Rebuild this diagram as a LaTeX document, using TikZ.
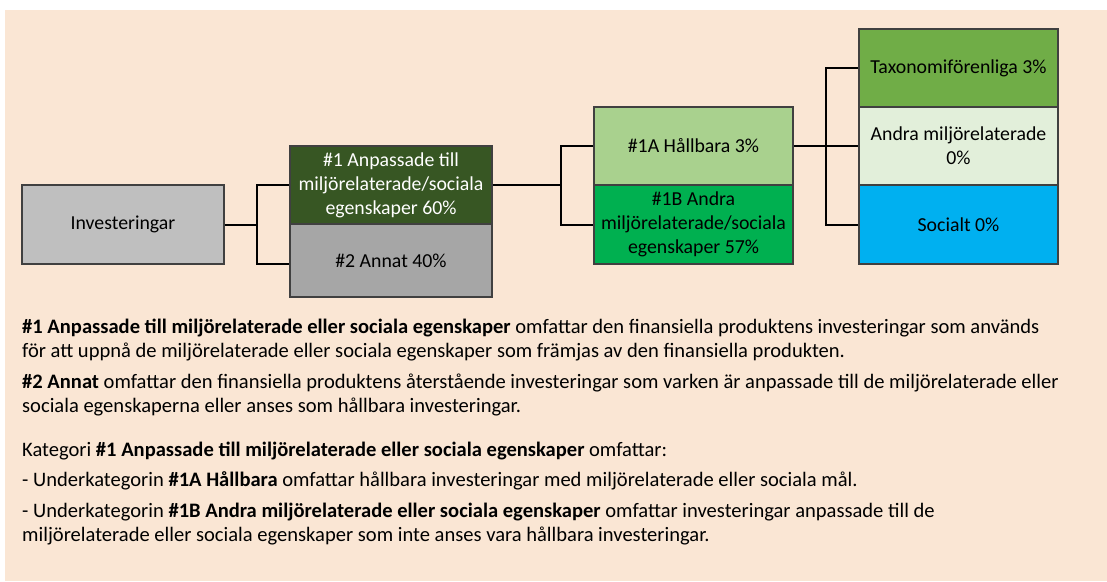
\documentclass[tikz,border=0pt]{standalone}
\usepackage{fontspec}
\setmainfont{Carlito}
\definecolor{bgpeach}{HTML}{FAE6D4}
\definecolor{boxline}{HTML}{404040}
\definecolor{invgray}{HTML}{BFBFBF}
\definecolor{darkgreen}{HTML}{375623}
\definecolor{midgray}{HTML}{A6A6A6}
\definecolor{lightgreen}{HTML}{A9D18E}
\definecolor{brightgreen}{HTML}{00B050}
\definecolor{taxgreen}{HTML}{70AD47}
\definecolor{palegreen}{HTML}{E2EFDA}
\definecolor{skyblue}{HTML}{00B0F0}
\tikzset{
  catbox/.style={draw=boxline, line width=1.2pt, rectangle, inner sep=0pt,
    align=center, font=\fontsize{19.8}{24}\selectfont, text=black},
  wide/.style={minimum width=202pt},
  narrow/.style={minimum width=199pt},
  link/.style={draw=black, line width=2pt},
  para/.style={anchor=base west, align=left, inner sep=0pt,
    font=\fontsize{20.55}{24}\selectfont},
}
\begin{document}
\begin{tikzpicture}[x=1pt,y=-1pt]
\useasboundingbox (0,0) rectangle (1107,581);
\fill[bgpeach] (5,10) rectangle (1107,581);

% first column
\node[catbox, wide, minimum height=79pt, fill=invgray] (inv) at (123,224.5) {Investeringar};
% second column
\node[catbox, wide, minimum height=78pt, fill=darkgreen, text=white] (a1) at (391,185)
  {\#1 Anpassade till\\miljörelaterade/sociala\\egenskaper 60\%};
\node[catbox, wide, minimum height=73pt, fill=midgray] (a2) at (391,260.5) {\#2 Annat 40\%};
% third column
\node[catbox, narrow, minimum height=78pt, fill=lightgreen] (b1) at (693.5,146) {\#1A Hållbara 3\%};
\node[catbox, narrow, minimum height=79pt, fill=brightgreen] (b2) at (693.5,224.5)
  {\#1B Andra\\miljörelaterade/sociala\\egenskaper 57\%};
% fourth column
\node[catbox, narrow, minimum height=78pt, fill=taxgreen] (c1) at (958.5,68) {Taxonomiförenliga 3\%};
\node[catbox, narrow, minimum height=78pt, fill=palegreen] (c2) at (958.5,146) {Andra miljörelaterade\\0\%};
\node[catbox, narrow, minimum height=79pt, fill=skyblue] (c3) at (958.5,224.5) {Socialt 0\%};

% connectors
\coordinate (j1) at (257,224.5);
\coordinate (j2) at (561,185);
\coordinate (j3) at (826,146);
\draw[link] (inv.east) -- (j1);
\draw[link] (a1.west) -| (j1) |- ([yshift=-3.5pt]a2.west);
\draw[link] (a1.east) -- (j2);
\draw[link] (b1.west) -| (j2) |- (b2.west);
\draw[link] (b1.east) -- (j3);
\draw[link] (c1.west) -| (j3) |- (c3.west);
\draw[link] (j3) -- (c2.west);

% explanatory text (base anchor of a two-line node = baseline of its last line)
\node[para] (p1) at (22,357.7) {\textbf{\#1 Anpassade till miljörelaterade eller sociala egenskaper} omfattar den finansiella produktens investeringar som används\\för att uppnå de miljörelaterade eller sociala egenskaper som främjas av den finansiella produkten.};
\node[para] (p2) at (22,412) {\textbf{\#2 Annat} omfattar den finansiella produktens återstående investeringar som varken är anpassade till de miljörelaterade eller\\sociala egenskaperna eller anses som hållbara investeringar.};
\node[para] (p3) at (22,456.7) {Kategori \textbf{\#1 Anpassade till miljörelaterade eller sociala egenskaper} omfattar:};
\node[para] (p4) at (22,486.7) {- Underkategorin \textbf{\#1A Hållbara} omfattar hållbara investeringar med miljörelaterade eller sociala mål.};
\node[para] (p5) at (22,541.7) {- Underkategorin \textbf{\#1B Andra miljörelaterade eller sociala egenskaper} omfattar investeringar anpassade till de\\miljörelaterade eller sociala egenskaper som inte anses vara hållbara investeringar.};
\end{tikzpicture}
\end{document}
